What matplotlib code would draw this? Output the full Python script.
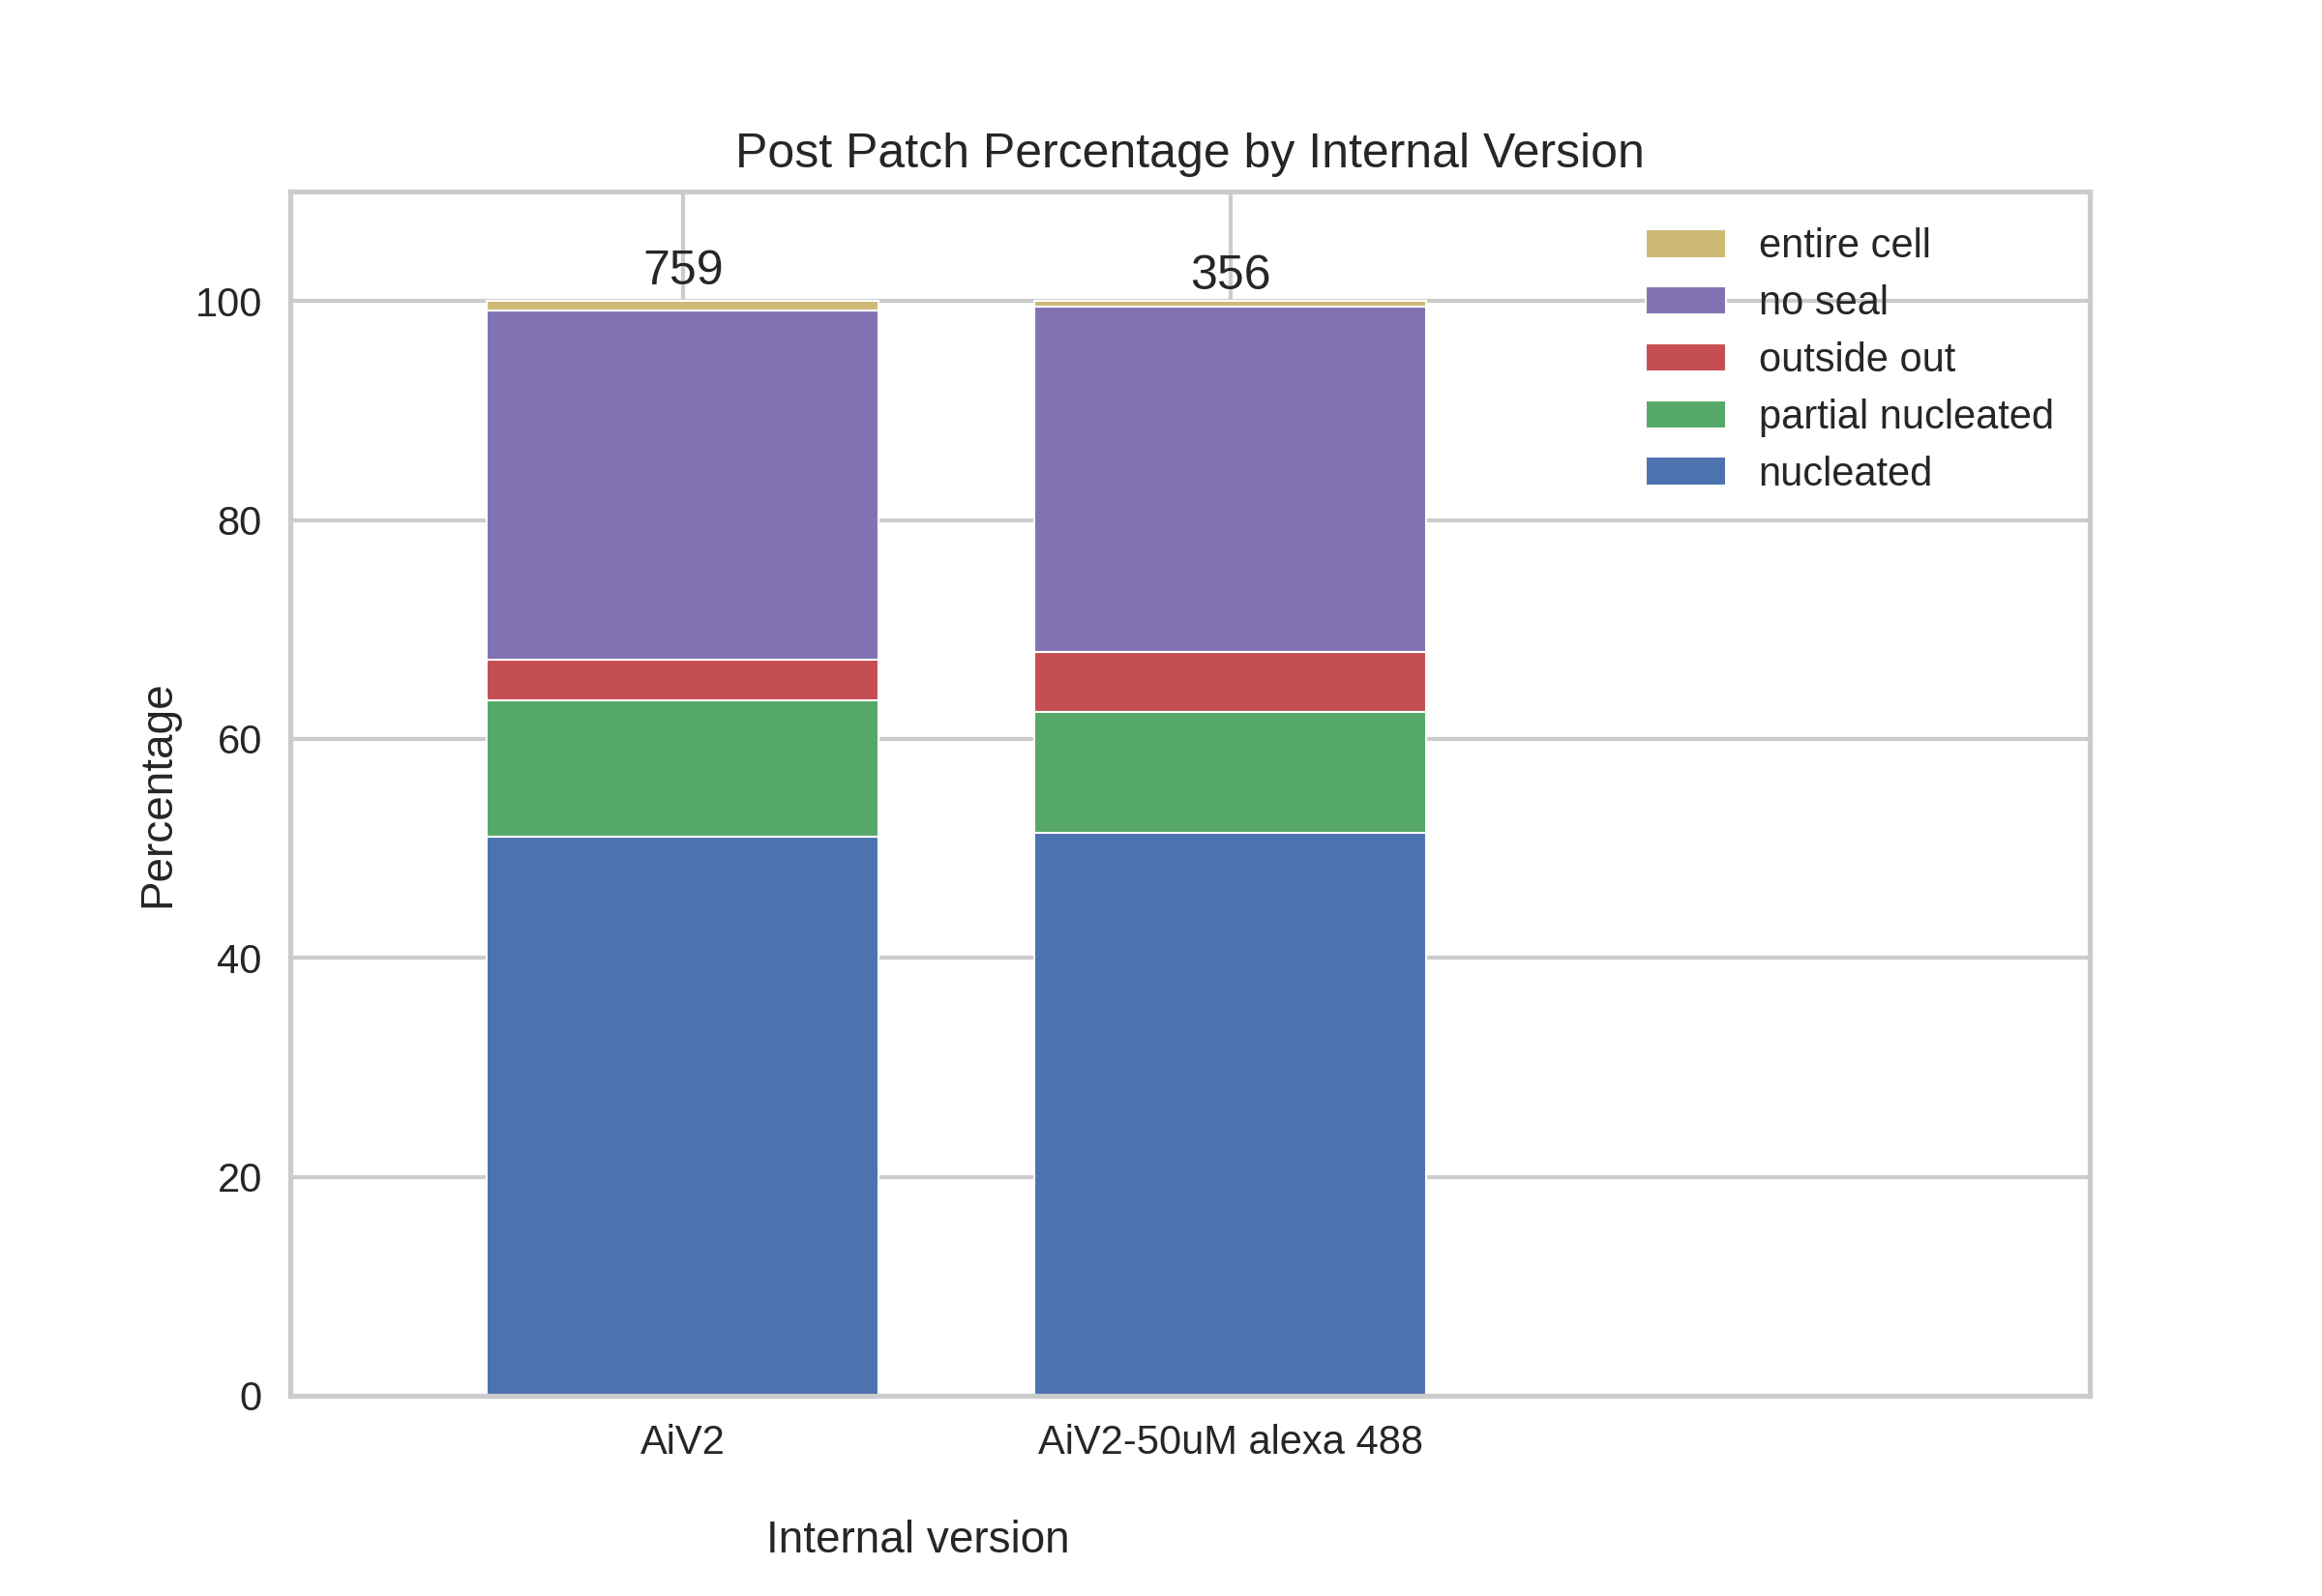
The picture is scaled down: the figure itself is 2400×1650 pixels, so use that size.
import matplotlib
matplotlib.use("Agg")
import matplotlib.pyplot as plt
import seaborn as sns
import numpy as np

categories = ["AiV2", "AiV2-50uM alexa 488"]
counts = [759, 356]
series_names = ["nucleated", "partial nucleated", "outside out", "no seal", "entire cell"]
nucleated = [51.1, 51.4]
partial_nucleated = [12.4, 11.1]
outside_out = [3.7, 5.4]
no_seal = [31.9, 31.6]
entire_cell = [0.9, 0.5]

colors = ["#4C72B0", "#55A868", "#C44E52", "#8172B2", "#CCB974"]

sns.set_style("whitegrid")
plt.rcParams["font.family"] = ["Arial", "Liberation Sans", "DejaVu Sans"]
plt.rcParams.update({
    "axes.edgecolor": "#cccccc",
    "grid.color": "#cccccc",
    "axes.linewidth": 1.25,
    "grid.linewidth": 1.0,
    "text.color": "#262626",
    "axes.labelcolor": "#262626",
    "xtick.color": "#262626",
    "ytick.color": "#262626",
})

fig, ax = plt.subplots(figsize=(8, 5.5), dpi=300)
fig.subplots_adjust(left=0.125, right=0.9, bottom=0.1255, top=0.88)

x = np.arange(len(categories))
width = 0.715
series = [nucleated, partial_nucleated, outside_out, no_seal, entire_cell]
bottom = np.zeros(len(categories))
handles = []
for name, vals, c in zip(series_names, series, colors):
    b = ax.bar(x, vals, width, bottom=bottom, color=c, edgecolor="white",
               linewidth=0.5, label=name, zorder=2)
    handles.append(b)
    bottom = bottom + np.array(vals)

for xi, tot, top, n in zip(x, bottom, entire_cell, counts):
    ax.text(xi, tot + top - 0.3, str(n), ha="center", va="bottom", fontsize=12)

ax.set_xlim(-0.717, 2.57)
ax.set_ylim(0, 110)
ax.set_xticks(x)
ax.set_xticklabels(categories, fontsize=10)
ax.tick_params(axis="y", labelsize=10)
ax.set_axisbelow(True)

ax.set_title("Post Patch Percentage by Internal Version", fontsize=12)
ax.set_ylabel("Percentage", fontsize=11)
ax.set_xlabel("Internal version", fontsize=11)
ax.xaxis.set_label_coords(0.349, -0.103)

leg = ax.legend(handles[::-1], series_names[::-1], loc="upper right",
                fontsize=10, frameon=False, labelspacing=0.45)

fig.savefig("out.png", dpi=300)
